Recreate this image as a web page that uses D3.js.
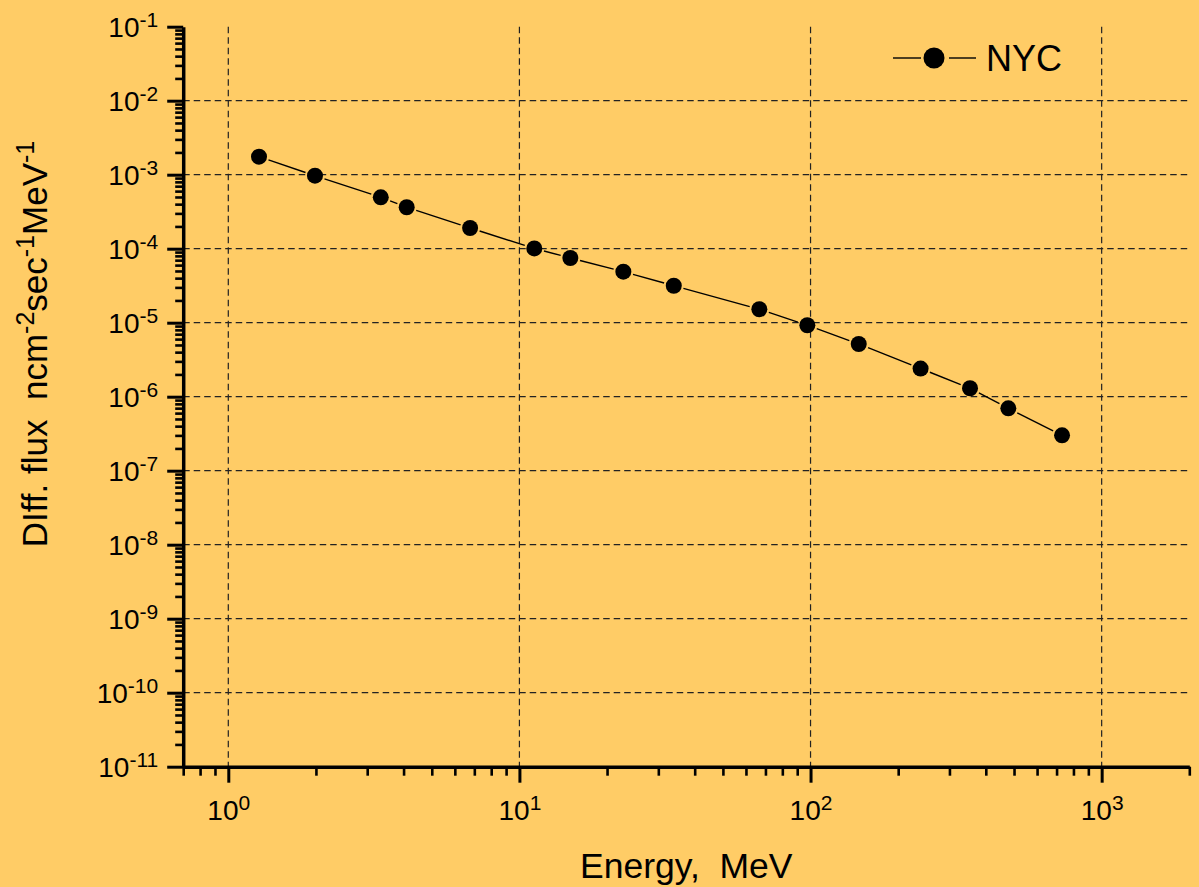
<!DOCTYPE html>
<html>
<head>
<meta charset="utf-8">
<script src="https://cdn.jsdelivr.net/npm/d3@7"></script>
<style>
  html, body { margin: 0; padding: 0; background: #FFCC66; }
  svg { display: block; }
  text { font-family: "Liberation Sans", Arial, sans-serif; fill: #000; }
</style>
</head>
<body>
<svg id="chart" width="1199" height="887"></svg>
<script>
// Differential neutron flux spectrum (NYC)
const energyMeV = [1.275, 1.985, 3.34, 4.10, 6.77, 11.25, 14.96, 22.75, 33.9, 66.7, 97.5, 146.4, 238.8, 353, 478, 731];
const diffFlux  = [1.75e-3, 9.7e-4, 4.95e-4, 3.63e-4, 1.905e-4, 1.01e-4, 7.49e-5, 4.89e-5, 3.16e-5, 1.52e-5, 9.23e-6, 5.15e-6, 2.40e-6, 1.30e-6, 6.97e-7, 3.01e-7];
const seriesName = "NYC";

const xMajorExp = [0, 1, 2, 3];
const yMajorExp = [-1, -2, -3, -4, -5, -6, -7, -8, -9, -10, -11];
const xDomain = [0.7, 2000];
const yDomain = [1e-11, 1e-1];

const svg = d3.select("#chart");
const W = 1199, H = 887;
const plot = { left: 183.2, right: 1189.3, top: 26.7, bottom: 766.7 };

svg.append("rect").attr("width", W).attr("height", H).attr("fill", "#FFCC66");

const x = d3.scaleLog().domain(xDomain).range([plot.left, plot.right]);
const y = d3.scaleLog().domain(yDomain).range([plot.bottom, plot.top]);

const xMajor = xMajorExp.map(e => Math.pow(10, e));
const yMajor = yMajorExp.map(e => Math.pow(10, e));

// minor ticks: 2..9 of every decade that falls inside the domain
function minorTicks(domain) {
  const out = [];
  const lo = Math.floor(Math.log10(domain[0])), hi = Math.ceil(Math.log10(domain[1]));
  for (let e = lo; e <= hi; e++) {
    for (let m = 2; m <= 9; m++) {
      const v = m * Math.pow(10, e);
      if (v >= domain[0] * 0.999 && v <= domain[1] * 1.001) out.push(v);
    }
  }
  return out;
}
const xMinor = minorTicks(xDomain);
const yMinor = minorTicks(yDomain);

// dashed grid at the major decades
const grid = svg.append("g").attr("stroke", "#222").attr("stroke-width", 1.2)
  .attr("stroke-dasharray", "6.5,4").attr("fill", "none");
grid.selectAll("line.gx").data(xMajor).join("line").attr("class", "gx")
  .attr("x1", d => x(d)).attr("x2", d => x(d))
  .attr("y1", plot.top).attr("y2", plot.bottom);
grid.selectAll("line.gy").data(yMajor.filter(v => v < 0.099 && v > 1.1e-11)).join("line").attr("class", "gy")
  .attr("y1", d => y(d)).attr("y2", d => y(d))
  .attr("x1", plot.left).attr("x2", plot.right);

// minor tick axes
svg.append("g").attr("transform", `translate(${plot.left},0)`)
  .call(d3.axisLeft(y).tickValues(yMinor).tickSize(8).tickSizeOuter(0).tickFormat(""))
  .call(g => g.select(".domain").remove())
  .call(g => g.selectAll(".tick line").attr("stroke", "#000").attr("stroke-width", 2.6));
svg.append("g").attr("transform", `translate(0,${plot.bottom})`)
  .call(d3.axisBottom(x).tickValues(xMinor).tickSize(9).tickSizeOuter(0).tickFormat(""))
  .call(g => g.select(".domain").remove())
  .call(g => g.selectAll(".tick line").attr("stroke", "#000").attr("stroke-width", 2.6));

// major axes with 10^n labels
function powerLabel(sel, exps) {
  sel.each(function(d, i) {
    const t = d3.select(this);
    t.text(null);
    t.append("tspan").attr("font-size", 28).text("10");
    t.append("tspan").attr("font-size", 21).attr("dy", -10).text(exps[i]);
  });
}

const yAxis = svg.append("g").attr("transform", `translate(${plot.left},0)`)
  .call(d3.axisLeft(y).tickValues(yMajor).tickSize(16).tickSizeOuter(0).tickPadding(9));
yAxis.select(".domain").attr("stroke", "#000").attr("stroke-width", 3.5);
yAxis.selectAll(".tick line").attr("stroke", "#000").attr("stroke-width", 3);
yAxis.selectAll(".tick text")
  .attr("font-family", "'Liberation Sans', Arial, sans-serif")
  .attr("fill", "#000").attr("dy", 10).attr("x", -25)
  .call(powerLabel, yMajorExp);

const xAxis = svg.append("g").attr("transform", `translate(0,${plot.bottom})`)
  .call(d3.axisBottom(x).tickValues(xMajor).tickSize(16).tickSizeOuter(0));
xAxis.select(".domain").attr("stroke", "#000").attr("stroke-width", 3.5);
xAxis.selectAll(".tick line").attr("stroke", "#000").attr("stroke-width", 3);
xAxis.selectAll(".tick text")
  .attr("font-family", "'Liberation Sans', Arial, sans-serif")
  .attr("fill", "#000").attr("y", 53).attr("dy", 0)
  .call(powerLabel, xMajorExp);

// axis titles
svg.append("text")
  .attr("x", (plot.left + plot.right) / 2).attr("y", 878)
  .attr("text-anchor", "middle").attr("font-size", 35.5)
  .text("Energy,  MeV").attr("xml:space", "preserve").style("white-space", "pre");

const yTitle = svg.append("text")
  .attr("transform", "translate(47,344) rotate(-90)")
  .attr("text-anchor", "middle").attr("font-size", 35)
  .style("white-space", "pre");
yTitle.append("tspan").text("DIff. flux  ncm");
yTitle.append("tspan").attr("font-size", 25).attr("dy", -13).text("-2");
yTitle.append("tspan").attr("dy", 13).text("sec");
yTitle.append("tspan").attr("font-size", 25).attr("dy", -13).text("-1");
yTitle.append("tspan").attr("dy", 13).text("MeV");
yTitle.append("tspan").attr("font-size", 25).attr("dy", -13).text("-1");

// data: connecting segments stop short of each marker
const pts = energyMeV.map((e, i) => [x(e), y(diffFlux[i])]);
const R = 8, GAP = 2;
const segs = [];
for (let i = 0; i < pts.length - 1; i++) {
  const [x1, y1] = pts[i], [x2, y2] = pts[i + 1];
  const L = Math.hypot(x2 - x1, y2 - y1);
  const c = (R + GAP) / L;
  if (L > 2 * (R + GAP)) {
    segs.push([x1 + (x2 - x1) * c, y1 + (y2 - y1) * c, x2 - (x2 - x1) * c, y2 - (y2 - y1) * c]);
  }
}
svg.append("g").attr("stroke", "#000").attr("stroke-width", 1.4)
  .selectAll("line").data(segs).join("line")
  .attr("x1", d => d[0]).attr("y1", d => d[1]).attr("x2", d => d[2]).attr("y2", d => d[3]);

svg.append("g").selectAll("circle").data(energyMeV).join("circle")
  .attr("cx", d => x(d)).attr("cy", (d, i) => y(diffFlux[i]))
  .attr("r", R).attr("fill", "#000");

// legend
const lg = svg.append("g").attr("transform", "translate(934,58)");
lg.append("line").attr("x1", -41).attr("x2", -13).attr("stroke", "#000").attr("stroke-width", 1.4);
lg.append("line").attr("x1", 15).attr("x2", 42).attr("stroke", "#000").attr("stroke-width", 1.4);
lg.append("circle").attr("r", 10.5).attr("fill", "#000");
lg.append("text").attr("x", 52).attr("y", 13).attr("font-size", 36).text(seriesName);
</script>
</body>
</html>
